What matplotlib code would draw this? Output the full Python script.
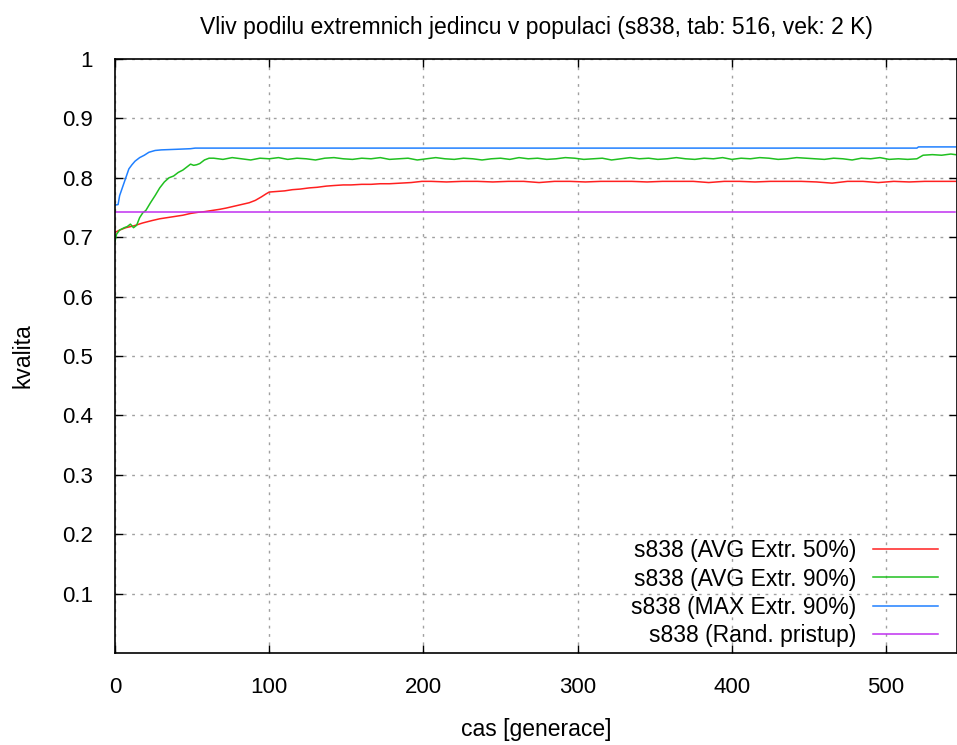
import matplotlib.pyplot as plt

# values (generation, kvalita)
red_gen = [0, 3, 7, 12, 18, 24, 29, 34, 39, 44, 49, 54, 58, 63, 68, 72, 77, 82, 87, 91,
           95, 98, 100, 105, 110, 115, 120, 126, 131, 137, 142, 148, 153, 160, 166, 172,
           178, 185, 192, 199]
red_val = [0.708, 0.712, 0.716, 0.719, 0.724, 0.728, 0.731, 0.733, 0.735, 0.737, 0.740,
           0.742, 0.743, 0.745, 0.747, 0.749, 0.752, 0.755, 0.758, 0.762, 0.768, 0.773,
           0.776, 0.777, 0.778, 0.780, 0.781, 0.783, 0.784, 0.786, 0.787, 0.788, 0.788,
           0.789, 0.789, 0.790, 0.790, 0.791, 0.792, 0.794]
red_tail_gen = list(range(205, 546, 10))
red_tail_val = [0.794, 0.793, 0.794, 0.794, 0.793, 0.794, 0.794, 0.792, 0.794, 0.794,
                0.793, 0.794, 0.794, 0.794, 0.793, 0.794, 0.794, 0.794, 0.792, 0.794,
                0.794, 0.793, 0.794, 0.794, 0.794, 0.793, 0.791, 0.794, 0.794, 0.792,
                0.794, 0.793, 0.794, 0.794, 0.794]

green_gen = [0, 1, 3, 6, 8, 10, 12, 14, 16, 18, 20, 23, 26, 29, 32, 35, 38, 41, 44, 47,
             49, 51, 53, 55, 58, 61]
green_val = [0.693, 0.705, 0.712, 0.716, 0.718, 0.722, 0.716, 0.720, 0.733, 0.741, 0.745,
             0.758, 0.770, 0.783, 0.793, 0.800, 0.803, 0.809, 0.813, 0.819, 0.823, 0.821,
             0.822, 0.824, 0.830, 0.833]
green_tail_gen = list(range(64, 521, 6))
green_tail_val = [
    0.833, 0.831, 0.834, 0.832, 0.830, 0.833, 0.832, 0.834, 0.831, 0.833,
    0.832, 0.830, 0.833, 0.834, 0.832, 0.831, 0.833, 0.832, 0.834, 0.831,
    0.832, 0.833, 0.830, 0.832, 0.834, 0.832, 0.831, 0.833, 0.832, 0.830,
    0.832, 0.833, 0.831, 0.834, 0.832, 0.833, 0.831, 0.832, 0.834, 0.833,
    0.831, 0.832, 0.833, 0.830, 0.832, 0.834, 0.832, 0.833, 0.831, 0.832,
    0.834, 0.832, 0.831, 0.833, 0.832, 0.834, 0.831, 0.833, 0.832, 0.834,
    0.833, 0.831, 0.832, 0.834, 0.833, 0.832, 0.831, 0.833, 0.832, 0.830,
    0.833, 0.832, 0.834, 0.831, 0.832, 0.831, 0.832]
green_end_gen = [524, 530, 536, 542, 545]
green_end_val = [0.838, 0.839, 0.838, 0.840, 0.839]

blue_gen = [0, 2, 3, 5, 7, 9, 11, 13, 16, 19, 22, 26, 30, 40, 49, 52, 520, 521, 545]
blue_val = [0.754, 0.755, 0.770, 0.785, 0.800, 0.815, 0.822, 0.828, 0.834, 0.838, 0.843,
            0.846, 0.847, 0.848, 0.849, 0.850, 0.850, 0.852, 0.852]

purple_gen = [0, 545]
purple_val = [0.742, 0.742]

labels = ["s838 (AVG Extr. 50%)", "s838 (AVG Extr. 90%)",
          "s838 (MAX Extr. 90%)", "s838 (Rand. pristup)"]
colors = ["#ff2020", "#20c020", "#2080ff", "#c030f0"]

plt.rcParams['font.family'] = ['Liberation Sans', 'DejaVu Sans']
fs = 16.5

fig = plt.figure(figsize=(9.57, 7.45), dpi=100)
ax = fig.add_axes([115 / 957, 1 - 653 / 745, 842 / 957, 594 / 745])

ax.plot(red_gen + red_tail_gen, red_val + red_tail_val, color=colors[0], lw=1.1, label=labels[0])
ax.plot(green_gen + green_tail_gen + green_end_gen, green_val + green_tail_val + green_end_val,
        color=colors[1], lw=1.1, label=labels[1])
ax.plot(blue_gen, blue_val, color=colors[2], lw=1.1, label=labels[2])
ax.plot(purple_gen, purple_val, color=colors[3], lw=1.1, label=labels[3])

ax.set_xlim(0, 546)
ax.set_ylim(0, 1)
ax.set_xticks([0, 100, 200, 300, 400, 500])
ax.set_yticks([0.1, 0.2, 0.3, 0.4, 0.5, 0.6, 0.7, 0.8, 0.9, 1.0])
ax.set_yticklabels(["0.1", "0.2", "0.3", "0.4", "0.5", "0.6", "0.7", "0.8", "0.9", "1"])
ax.tick_params(direction='in', length=6, width=1, top=True, right=True, labelsize=16)
ax.tick_params(axis='x', pad=17)
ax.tick_params(axis='y', pad=16)
ax.grid(True, color='#a0a0a0', linestyle=(0, (2, 4)), linewidth=1)
for s in ax.spines.values():
    s.set_linewidth(1.2)

ax.set_title("Vliv podilu extremnich jedincu v populaci (s838, tab: 516, vek: 2 K)",
             fontsize=fs, pad=18)
ax.set_xlabel("cas [generace]", fontsize=fs)
ax.set_ylabel("kvalita", fontsize=fs)
ax.xaxis.set_label_coords(0.5, -0.109)
ax.yaxis.set_label_coords(-0.096, 0.5)

ax.legend(loc='lower right', bbox_to_anchor=(0.978, 0.01), frameon=False, markerfirst=False,
          fontsize=fs, handlelength=2.84, handletextpad=0.74, labelspacing=0.23, borderpad=0,
          borderaxespad=0)

fig.savefig("out.png", dpi=100)
